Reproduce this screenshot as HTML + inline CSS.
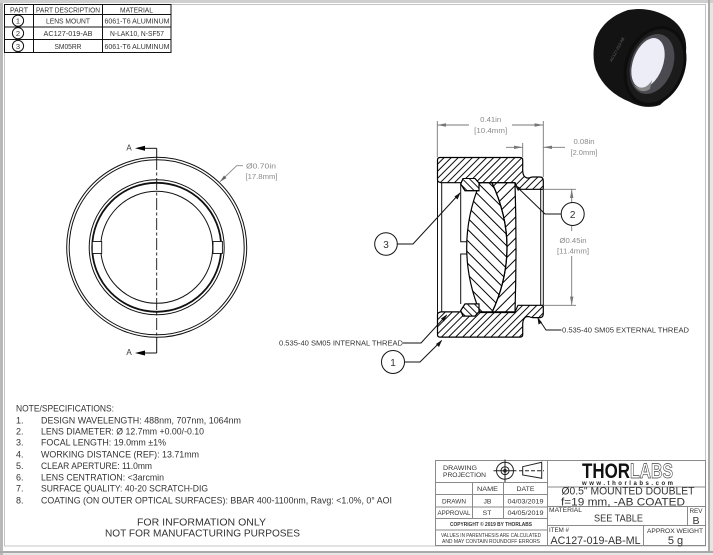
<!DOCTYPE html>
<html><head><meta charset="utf-8"><style>
html,body{margin:0;padding:0;background:#fff;width:713px;height:555px;overflow:hidden}
svg{display:block}
text{font-family:"Liberation Sans",sans-serif;fill:#333}
</style></head><body>
<svg width="713" height="555" viewBox="0 0 713 555" xmlns="http://www.w3.org/2000/svg">
<defs>
<pattern id="h1" width="5" height="5" patternUnits="userSpaceOnUse" patternTransform="rotate(45)"><line x1="0.5" y1="0" x2="0.5" y2="5" stroke="#000" stroke-width="0.95"/></pattern>
<pattern id="h2" width="8" height="8" patternUnits="userSpaceOnUse" patternTransform="rotate(-45)"><line x1="0.5" y1="0" x2="0.5" y2="8" stroke="#000" stroke-width="1"/></pattern>
<pattern id="h4" width="7.5" height="7.5" patternUnits="userSpaceOnUse" patternTransform="rotate(45)"><line x1="0.5" y1="0" x2="0.5" y2="7.5" stroke="#000" stroke-width="1"/></pattern>
<pattern id="h5" width="5" height="5" patternUnits="userSpaceOnUse" patternTransform="rotate(-45)"><line x1="0.5" y1="0" x2="0.5" y2="5" stroke="#000" stroke-width="0.9"/></pattern>
</defs>
<!-- page frame -->
<rect x="0" y="0" width="713" height="555" fill="#e6e6e6"/>
<rect x="0" y="0" width="3" height="555" fill="#b8b8b8"/>
<rect x="0" y="0" width="713" height="3" fill="#cfcfcf"/>
<rect x="0" y="551" width="713" height="2" fill="#aaa"/>
<rect x="708" y="0" width="2" height="553" fill="#aaa"/>
<rect x="3" y="3" width="705" height="548" fill="#fff"/>
<rect x="4.5" y="4.5" width="701" height="541.5" fill="none" stroke="#c4c4c4" stroke-width="1"/>

<!-- parts table -->
<g fill="none" stroke="#111" stroke-width="1">
<rect x="4.5" y="4.5" width="166.5" height="48" fill="#fff"/>
<line x1="4.5" y1="14.5" x2="171" y2="14.5"/><line x1="4.5" y1="27" x2="171" y2="27"/><line x1="4.5" y1="39.5" x2="171" y2="39.5"/>
<line x1="33.5" y1="4.5" x2="33.5" y2="52.5"/><line x1="102.5" y1="4.5" x2="102.5" y2="52.5"/>
<circle cx="18" cy="20.7" r="5.6"/><circle cx="18" cy="33.2" r="5.6"/><circle cx="18" cy="46" r="5.6"/>
</g>
<g font-size="7.5" text-anchor="middle">
<text x="19" y="12.5" textLength="18" lengthAdjust="spacingAndGlyphs">PART</text>
<text x="68" y="12.5" textLength="64" lengthAdjust="spacingAndGlyphs">PART DESCRIPTION</text>
<text x="136.5" y="12.5" textLength="33" lengthAdjust="spacingAndGlyphs">MATERIAL</text>
<text x="18" y="23.5">1</text><text x="18" y="36">2</text><text x="18" y="48.8">3</text>
<text x="68" y="23.5" textLength="44" lengthAdjust="spacingAndGlyphs">LENS MOUNT</text>
<text x="68" y="36" textLength="49" lengthAdjust="spacingAndGlyphs">AC127-019-AB</text>
<text x="137" y="23.5" textLength="65" lengthAdjust="spacingAndGlyphs">6061-T6 ALUMINUM</text>
<text x="137" y="36" textLength="54" lengthAdjust="spacingAndGlyphs">N-LAK10, N-SF57</text>
<text x="68" y="48.8" textLength="27" lengthAdjust="spacingAndGlyphs">SM05RR</text>
<text x="137" y="48.8" textLength="65" lengthAdjust="spacingAndGlyphs">6061-T6 ALUMINUM</text>
</g>

<!-- 3D render -->
<g>
<path d="M596 38 Q604 18 628 10 Q650 6 670 18 Q688 30 686 52 Q684 85 660 105 Q645 110 630 102 Q605 92 596 70 Q591 55 596 38Z" fill="#131313"/>
<ellipse cx="655" cy="66" rx="30" ry="41" transform="rotate(20 655 66)" fill="#0d0d0d"/>
<ellipse cx="655" cy="66" rx="27" ry="38" transform="rotate(20 655 66)" fill="#1b1b1b"/>
<ellipse cx="652" cy="64" rx="21" ry="31" transform="rotate(20 652 64)" fill="#4a4a50"/>
<ellipse cx="648" cy="63" rx="15" ry="26" transform="rotate(20 648 63)" fill="#ededf7"/>
<path d="M634 85 Q645 92 652 80 L650 89 Q641 95 634 85Z" fill="#888"/>
<text x="612" y="62" font-size="4" style="fill:#666" transform="rotate(-62 612 62)">AC127-019-AB</text>
</g>

<!-- front view -->
<g fill="none" stroke="#111">
<circle cx="156.7" cy="247.3" r="90" stroke-width="1"/>
<circle cx="156.7" cy="247.3" r="87.5" stroke-width="1"/>
<circle cx="156.7" cy="247.3" r="67.5" stroke-width="1"/>
<circle cx="156.7" cy="247.3" r="64.5" stroke-width="1.8"/>
<circle cx="156.7" cy="247.3" r="56" stroke-width="1"/>
</g>
<g fill="#fff" stroke="#111" stroke-width="0.9">
<rect x="92.3" y="241.5" width="9.4" height="12"/>
<rect x="213" y="241.5" width="9.4" height="12"/>
</g>
<g stroke="#111" fill="none" stroke-width="1">
<path d="M156.7 148.3 V158"/><path d="M156.7 337 V353"/>
<path d="M156.7 158 V337" stroke-dasharray="12 2.5 3 2.5" stroke-width="0.9"/>
<path d="M156.7 148.3 H144"/><path d="M156.7 353 H144"/>
</g>
<path d="M135 148.3 L145 145.8 V150.8Z M135 353 L145 350.5 V355.5Z" fill="#000"/>
<text x="129" y="150.5" font-size="8" text-anchor="middle">A</text>
<text x="129" y="355" font-size="8" text-anchor="middle">A</text>
<path d="M220 181.7 L236.7 165.7 H243" stroke="#888" fill="none" stroke-width="0.9"/>
<path d="M220 181.7 L224 175.5 L226.5 178Z" fill="#666"/>
<g font-size="7.5">
<text x="246" y="168.5" style="fill:#8a8a8a" textLength="30" lengthAdjust="spacingAndGlyphs">Ø0.70in</text>
<text x="245.5" y="179" style="fill:#8a8a8a" textLength="32" lengthAdjust="spacingAndGlyphs">[17.8mm]</text>
</g>

<!-- section view -->
<g fill="none" stroke="#111" stroke-width="1">
<path d="M437.5 180 V315"/><path d="M441.7 182.7 V312"/>
<path d="M460.7 184 V241.7 H466.5"/><path d="M466.5 254 H460.7 V304"/>
<path d="M540.7 189 V305"/><path d="M543.3 189 V305"/>
</g>
<path d="M480 182.7 Q453.4 247.5 480 312.5 L492 312.5 Q522 247.5 492 182.7 Z" fill="url(#h2)" stroke="#000" stroke-width="1.2"/>
<path d="M492 182.7 Q522 247.5 492 312.5 L515 312.5 Q517 247.5 515 182.7 Z" fill="url(#h4)" stroke="#000" stroke-width="1.2"/>
<!-- mount body, top and bottom, both hatched the same way -->
<path d="M437.5 160 Q437.5 157.5 440 157.5 L520 157.5 Q522.7 157.5 522.7 160 L522.7 171 Q523 177 527 178 L529 178 Q531 177 533 177 L540 177 Q543.3 177 543.3 181 L543.3 189.3 L518 189.3 L515 182.7 L441 182.7 Q437.5 182 437.5 180 Z" fill="url(#h1)" stroke="#000" stroke-width="1.2"/>
<path d="M437.5 334.6 Q437.5 337.1 440 337.1 L520 337.1 Q522.7 337.1 522.7 334.6 L522.7 323.6 Q523 317.6 527 316.6 L529 316.6 Q531 317.6 533 317.6 L540 317.6 Q543.3 317.6 543.3 313.6 L543.3 305.3 L518 305.3 L515 311.9 L441 311.9 Q437.5 312.6 437.5 314.6 Z" fill="url(#h1)" stroke="#000" stroke-width="1.2"/>
<!-- retaining ring -->
<path d="M463 178.5 L475 178.5 L479 183 L479 190.7 L465 190.7 L460.7 184 Z" fill="#fff" stroke="#000" stroke-width="1.1"/>
<path d="M463 178.5 L475 178.5 L479 183 L479 190.7 L465 190.7 L460.7 184 Z" fill="url(#h5)" stroke="#000" stroke-width="1.1"/>
<path d="M463 316.1 L475 316.1 L479 311.6 L479 303.9 L465 303.9 L460.7 310.6 Z" fill="#fff" stroke="#000" stroke-width="1.1"/>
<path d="M463 316.1 L475 316.1 L479 311.6 L479 303.9 L465 303.9 L460.7 310.6 Z" fill="url(#h5)" stroke="#000" stroke-width="1.1"/>

<!-- dimensions -->
<g stroke="#777" fill="none" stroke-width="0.9">
<path d="M437.3 121 V157"/><path d="M543.3 121 V177"/>
<path d="M437.3 125 H469"/><path d="M512 125 H543.3"/>
<path d="M522.7 143 V157"/>
<path d="M506 147.3 H522.7"/><path d="M543.3 147.3 H565"/>
<path d="M543.3 189.3 H576"/><path d="M543.3 305.3 H576"/>
<path d="M571.7 189.3 V231"/><path d="M571.7 256 V305.3"/>
</g>
<path d="M437.3 125 L446 123.3 V126.7Z M543.3 125 L534.6 123.3 V126.7Z M522.7 147.3 L514 145.6 V149Z M543.3 147.3 L552 145.6 V149Z M571.7 189.3 L570 198 H573.4Z M571.7 305.3 L570 296.6 H573.4Z" fill="#777"/>
<g font-size="7.5" text-anchor="middle">
<text x="490.7" y="122" style="fill:#8a8a8a" textLength="21" lengthAdjust="spacingAndGlyphs">0.41in</text>
<text x="490.7" y="133" style="fill:#8a8a8a" textLength="33" lengthAdjust="spacingAndGlyphs">[10.4mm]</text>
<text x="584" y="144" style="fill:#8a8a8a" textLength="21" lengthAdjust="spacingAndGlyphs">0.08in</text>
<text x="584" y="155" style="fill:#8a8a8a" textLength="27" lengthAdjust="spacingAndGlyphs">[2.0mm]</text>
<text x="573" y="243" style="fill:#8a8a8a" textLength="27" lengthAdjust="spacingAndGlyphs">Ø0.45in</text>
<text x="573" y="253.5" style="fill:#8a8a8a" textLength="32" lengthAdjust="spacingAndGlyphs">[11.4mm]</text>
</g>

<!-- balloons and leaders -->
<g fill="none" stroke="#111" stroke-width="1">
<circle cx="386" cy="244" r="11.3" fill="#fff"/><path d="M397.3 244 H413 L460 193"/>
<path d="M561.2 214 H545 L515 185"/><circle cx="572.7" cy="214" r="11.5" fill="#fff"/>
<circle cx="393" cy="362" r="11.5" fill="#fff"/><path d="M404.5 362 H420 L441.7 340.5"/>
<path d="M403 343 H421 L446.7 315"/>
<path d="M538 318 L546 330 H561.5"/>
</g>
<path d="M460.5 192.5 L454.5 196.5 L457.5 199.5Z M515 185 L518 191 L521 188Z M442 340 L436 344 L439 347Z M447 314.5 L441 318.5 L444 321.5Z M537.5 317.5 L538.5 324.5 L542 322.5Z" fill="#111"/>
<g font-size="10" text-anchor="middle"><text x="386" y="248">3</text><text x="572.7" y="218">2</text><text x="393" y="366">1</text></g>
<text x="279" y="345.5" font-size="7.5" textLength="124" lengthAdjust="spacingAndGlyphs">0.535-40 SM05 INTERNAL THREAD</text>
<text x="562" y="332.7" font-size="7.5" textLength="127" lengthAdjust="spacingAndGlyphs">0.535-40 SM05 EXTERNAL THREAD</text>

<!-- notes -->
<g font-size="9">
<text x="16" y="411.7" textLength="98" lengthAdjust="spacingAndGlyphs">NOTE/SPECIFICATIONS:</text>
<text x="16" y="423.7">1.</text><text x="41" y="423.7" textLength="200" lengthAdjust="spacingAndGlyphs">DESIGN WAVELENGTH: 488nm, 707nm, 1064nm</text>
<text x="16" y="434.5">2.</text><text x="41" y="434.5" textLength="163" lengthAdjust="spacingAndGlyphs">LENS DIAMETER:  Ø 12.7mm +0.00/-0.10</text>
<text x="16" y="445.7">3.</text><text x="41" y="445.7" textLength="125" lengthAdjust="spacingAndGlyphs">FOCAL LENGTH: 19.0mm  ±1%</text>
<text x="16" y="457.7">4.</text><text x="41" y="457.7" textLength="158" lengthAdjust="spacingAndGlyphs">WORKING DISTANCE (REF):  13.71mm</text>
<text x="16" y="469">5.</text><text x="41" y="469" textLength="111" lengthAdjust="spacingAndGlyphs">CLEAR APERTURE: 11.0mm</text>
<text x="16" y="480.5">6.</text><text x="41" y="480.5" textLength="123" lengthAdjust="spacingAndGlyphs">LENS CENTRATION: &lt;3arcmin</text>
<text x="16" y="491.5">7.</text><text x="41" y="491.5" textLength="167" lengthAdjust="spacingAndGlyphs">SURFACE QUALITY: 40-20 SCRATCH-DIG</text>
<text x="16" y="503.7">8.</text><text x="41" y="503.7" textLength="351" lengthAdjust="spacingAndGlyphs">COATING (ON OUTER OPTICAL SURFACES): BBAR 400-1100nm, Ravg: &lt;1.0%, 0° AOI</text>
</g>
<g font-size="10.5">
<text x="137" y="525.7" textLength="129" lengthAdjust="spacingAndGlyphs">FOR INFORMATION ONLY</text>
<text x="105" y="536.5" textLength="195" lengthAdjust="spacingAndGlyphs">NOT FOR MANUFACTURING PURPOSES</text>
</g>

<!-- title block -->
<g stroke="#8a8a8a" fill="none" stroke-width="1">
<rect x="435.5" y="460.5" width="270" height="85"/>
<path d="M547.5 460.5 V545.5"/>
<path d="M435.5 482.5 H547.5 M435.5 494.5 H547.5 M435.5 507 H547.5 M435.5 518.5 H547.5 M435.5 530 H547.5"/>
<path d="M472.5 482.5 V518.5 M503.5 482.5 V518.5"/>
<path d="M547.5 487 H705.5 M547.5 506.5 H705.5 M547.5 525.5 H705.5"/>
<path d="M687.5 506.5 V525.5 M643.5 525.5 V545.5"/>
</g>
<g font-size="6.8">
<text x="443" y="470" textLength="34" lengthAdjust="spacingAndGlyphs">DRAWING</text>
<text x="443" y="477" textLength="43" lengthAdjust="spacingAndGlyphs">PROJECTION</text>
</g>
<g fill="none" stroke="#222" stroke-width="1">
<circle cx="505" cy="470.7" r="8.5"/><circle cx="505" cy="470.7" r="4"/><circle cx="505" cy="470.7" r="1.3" fill="#222"/>
<path d="M505 459.5 V482 M493.5 470.7 H516.5"/>
<path d="M522.7 466.7 L541.7 462.3 V478.3 L522.7 475Z"/>
<path d="M519 470.7 H544" stroke-dasharray="4 2"/>
</g>
<g font-size="6.8" text-anchor="middle">
<text x="487.5" y="491" textLength="21" lengthAdjust="spacingAndGlyphs">NAME</text>
<text x="525.5" y="491" textLength="18" lengthAdjust="spacingAndGlyphs">DATE</text>
<text x="454" y="503.5" textLength="24" lengthAdjust="spacingAndGlyphs">DRAWN</text>
<text x="487.5" y="503.5">JB</text>
<text x="525.5" y="503.5" textLength="36" lengthAdjust="spacingAndGlyphs">04/03/2019</text>
<text x="454" y="515" textLength="33" lengthAdjust="spacingAndGlyphs">APPROVAL</text>
<text x="487" y="515">ST</text>
<text x="525.5" y="515" textLength="36" lengthAdjust="spacingAndGlyphs">04/05/2019</text>
<text x="491" y="526" font-size="5.2" font-weight="bold" textLength="82" lengthAdjust="spacingAndGlyphs">COPYRIGHT © 2019 BY THORLABS</text>
<text x="491" y="537" font-size="5.2" textLength="100" lengthAdjust="spacingAndGlyphs">VALUES IN PARENTHESIS ARE CALCULATED</text>
<text x="491" y="543" font-size="5.2" textLength="98" lengthAdjust="spacingAndGlyphs">AND MAY CONTAIN ROUNDOFF ERRORS</text>
</g>
<text x="582" y="478" font-size="21" font-weight="bold" style="fill:#111" textLength="48" lengthAdjust="spacingAndGlyphs">THOR</text>
<text x="630" y="478" font-size="21" font-weight="bold" style="fill:#fff;stroke:#444;stroke-width:.7" textLength="43" lengthAdjust="spacingAndGlyphs">LABS</text>
<text x="582" y="485" font-size="6" font-weight="bold" style="fill:#222" textLength="91">www.thorlabs.com</text>
<g text-anchor="middle" style="fill:#333">
<text x="628" y="494.3" font-size="11" textLength="133" lengthAdjust="spacingAndGlyphs">Ø0.5" MOUNTED DOUBLET</text>
<text x="623" y="505.3" font-size="11" textLength="124" lengthAdjust="spacingAndGlyphs">f=19 mm, -AB COATED</text>
<text x="618.5" y="521.7" font-size="10.5" textLength="49" lengthAdjust="spacingAndGlyphs">SEE TABLE</text>
<text x="696" y="513" font-size="6.5" textLength="13" lengthAdjust="spacingAndGlyphs">REV</text>
<text x="696" y="524" font-size="10.5">B</text>
<text x="675" y="533" font-size="6.8" textLength="56" lengthAdjust="spacingAndGlyphs">APPROX WEIGHT</text>
<text x="675.5" y="544" font-size="11">5 g</text>
<text x="595.5" y="544" font-size="11" textLength="90" lengthAdjust="spacingAndGlyphs">AC127-019-AB-ML</text>
</g>
<text x="549" y="512" font-size="6.5" textLength="33" lengthAdjust="spacingAndGlyphs">MATERIAL</text>
<text x="549" y="532" font-size="6.5" textLength="20" lengthAdjust="spacingAndGlyphs">ITEM #</text>
</svg>
</body></html>
